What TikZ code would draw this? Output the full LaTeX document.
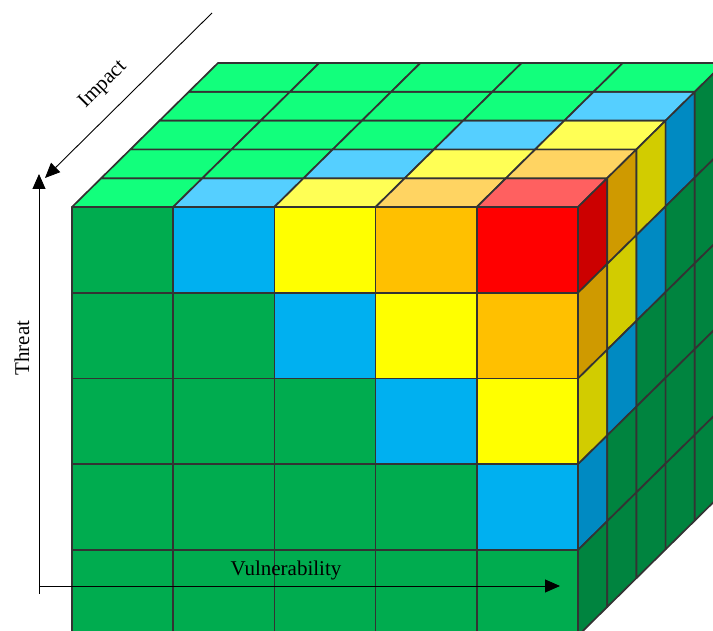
\documentclass[tikz,border=0pt]{standalone}
\usepackage{fontspec}
\setmainfont{Liberation Serif}
\usetikzlibrary{arrows.meta}

% face colours, one per risk level 0..4
\definecolor{front0}{HTML}{00AC4F}
\definecolor{front1}{HTML}{00B0F0}
\definecolor{front2}{HTML}{FFFF00}
\definecolor{front3}{HTML}{FFC000}
\definecolor{front4}{HTML}{FF0000}
\definecolor{top0}{HTML}{12FF7C}
\definecolor{top1}{HTML}{55CFFF}
\definecolor{top2}{HTML}{FFFF55}
\definecolor{top3}{HTML}{FFD462}
\definecolor{top4}{HTML}{FF6060}
\definecolor{side0}{HTML}{00843F}
\definecolor{side1}{HTML}{008AC2}
\definecolor{side2}{HTML}{D2CC00}
\definecolor{side3}{HTML}{CF9A00}
\definecolor{side4}{HTML}{CC0000}

\tikzset{
  cell/.style={draw=black!80,line width=1.7pt,line join=round},
  axis/.style={line width=0.9pt,-{Triangle[length=15pt,width=13pt]}},
  axislabel/.style={font=\fontsize{21}{25}\selectfont,inner sep=0pt}
}

\begin{document}
\begin{tikzpicture}[x=1pt,y=1pt]
\useasboundingbox (0,0) rectangle (713,631);
\begin{scope}
\clip (0,0) rectangle (713,631);
\begin{scope}[shift={(72,424)},x=101.2pt,y=85.75pt,z={(29.2pt,28.8pt)}]
% front face
\foreach \c in {0,...,4}
  \foreach \r in {0,...,4}{
    \pgfmathtruncatemacro\lv{max(0,\c-\r)}
    \draw[cell,fill=front\lv](\c,-\r,0)rectangle(\c+1,-\r-1,0);
  }
% top face
\foreach \c in {0,...,4}
  \foreach \d in {0,...,4}{
    \pgfmathtruncatemacro\lv{max(0,\c-\d)}
    \draw[cell,fill=top\lv](\c,0,\d)--(\c+1,0,\d)--(\c+1,0,\d+1)--(\c,0,\d+1)--cycle;
  }
% right face
\foreach \r in {0,...,4}
  \foreach \d in {0,...,4}{
    \pgfmathtruncatemacro\lv{max(0,4-\r-\d)}
    \draw[cell,fill=side\lv](5,-\r,\d)--(5,-\r,\d+1)--(5,-\r-1,\d+1)--(5,-\r-1,\d)--cycle;
  }
\end{scope}
\end{scope}

% axes
\coordinate (threat-start) at (39,37);
\coordinate (threat-end) at (39,457);
\coordinate (vuln-start) at (39,45);
\coordinate (vuln-end) at (560,45);
\coordinate (impact-start) at (212,618);
\coordinate (impact-end) at (45,453);
\draw[axis](threat-start)--(threat-end);
\draw[axis](vuln-start)--(vuln-end);
\draw[axis](impact-start)--(impact-end);

\node[axislabel,rotate=90] (threat) at (22,283) {Threat};
\node[axislabel] (vuln) at (286,61) {Vulnerability};
\node[axislabel,rotate=45] (impact) at (103,546) {Impact};
\end{tikzpicture}
\end{document}
